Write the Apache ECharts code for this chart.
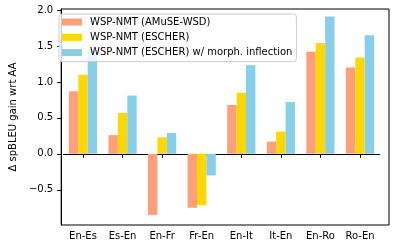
<!DOCTYPE html>
<html>
<head>
<meta charset="utf-8">
<script src="https://cdn.jsdelivr.net/npm/echarts@6/dist/echarts.min.js"></script>
<style>html,body{margin:0;padding:0;background:#fff}#c{width:399px;height:244px}</style>
</head>
<body>
<div id="c"></div>
<script>
const categories = ['En-Es','Es-En','En-Fr','Fr-En','En-It','It-En','En-Ro','Ro-En'];
const seriesNames = ['WSP-NMT (AMuSE-WSD)','WSP-NMT (ESCHER)','WSP-NMT (ESCHER) w/ morph. inflection'];
const amuse = [0.87, 0.26, -0.85, -0.75, 0.68, 0.17, 1.42, 1.20];
const escher = [1.10, 0.57, 0.23, -0.71, 0.85, 0.31, 1.54, 1.34];
const escherMorph = [1.45, 0.81, 0.29, -0.30, 1.23, 0.72, 1.91, 1.65];
const yTicks = [-0.5, 0, 0.5, 1.0, 1.5, 2.0];
const colors = ['#FFA07A','#FFD700','#87CEEB'];
const yMin = -0.99, yMax = 2.014;

const font = 'DejaVu Sans';
const chart = echarts.init(document.getElementById('c'), null, {renderer:'canvas'});
const mk = (name, data, i) => ({
  name, type:'bar', data, barWidth:9.4, barGap:'0%',
  itemStyle:{color:colors[i]}, xAxisIndex:0, yAxisIndex:0
});
chart.setOption({
  animation:false,
  textStyle:{fontFamily:font},
  grid:[
    {left:63.2, right:19.2, top:9, bottom:19},
    {left:54, right:10, top:9, bottom:19, show:true, borderColor:'#000', borderWidth:1, backgroundColor:'rgba(0,0,0,0)'}
  ],
  legend:{
    orient:'vertical', left:59, top:14,
    data:seriesNames,
    itemWidth:20, itemHeight:7, itemGap:3.3,
    padding:[2,4,3,3],
    backgroundColor:'rgba(255,255,255,0.8)',
    borderColor:'#cccccc', borderWidth:1, borderRadius:3,
    icon:'rect',
    textStyle:{fontFamily:font, fontSize:10, color:'#000', lineHeight:12, padding:[0,0,0,3]}
  },
  xAxis:[
    {type:'category', data:categories, gridIndex:0,
     axisLine:{show:true, lineStyle:{color:'#000', width:1}},
     axisTick:{show:true, alignWithLabel:true, length:4, lineStyle:{color:'#000'}},
     axisLabel:{fontFamily:font, fontSize:10, color:'#000', margin:6},
     splitLine:{show:false}},
    {type:'value', gridIndex:1, min:0, max:1, show:false}
  ],
  yAxis:[
    {type:'value', gridIndex:0, min:yMin, max:yMax, show:false, splitLine:{show:false}},
    {type:'value', gridIndex:1, min:yMin, max:yMax,
     name:'Δ spBLEU gain wrt AA', nameLocation:'middle', nameGap:38,
     nameTextStyle:{fontFamily:font, fontSize:10, color:'#000'},
     axisLine:{show:true, lineStyle:{color:'#000', width:1}},
     axisTick:{show:true, length:4, customValues:yTicks, lineStyle:{color:'#000'}},
     axisLabel:{fontFamily:font, fontSize:10, color:'#000', margin:8, customValues:yTicks,
       formatter:v => (v < 0 ? '\u2212' : '') + Math.abs(v).toFixed(1)},
     splitLine:{show:false}}
  ],
  series:[mk(seriesNames[0], amuse, 0), mk(seriesNames[1], escher, 1), mk(seriesNames[2], escherMorph, 2)]
});
</script>
</body>
</html>
